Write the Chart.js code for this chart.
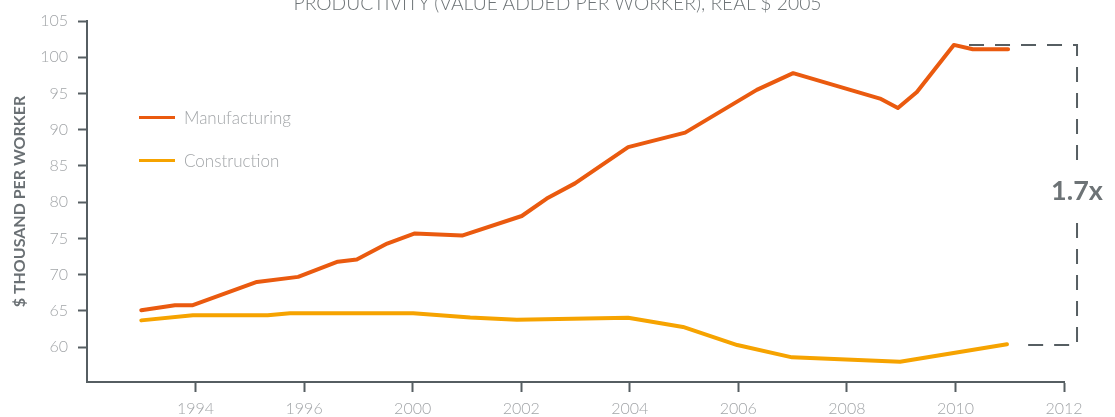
<!DOCTYPE html>
<html>
<head>
<meta charset="utf-8">
<title>Productivity</title>
<script src="https://cdn.jsdelivr.net/npm/chart.js@4.4.1/dist/chart.umd.min.js"></script>
<style>
  body { margin: 0; background: #fff; overflow: hidden; }
  #wrap { position: relative; width: 1115px; height: 417px; }
  #titulo { position: absolute; left: 0; top: -7px; width: 1115px; text-align: center;
            font: 300 19.3px/20px Lato, sans-serif; color: #6e7477; white-space: nowrap; }
  #legend { position: absolute; left: 139px; top: 104px; font: 300 17px Lato, sans-serif; color: #a2a5a8; }
  .item { display: flex; align-items: center; height: 26px; margin-bottom: 17px; }
  .swatch { width: 36px; height: 3px; margin-right: 9px; }
</style>
</head>
<body>
<div id="wrap">
  <canvas id="grafica"></canvas>
  <div id="titulo">PRODUCTIVITY (VALUE ADDED PER WORKER), REAL $ 2005</div>
  <div id="legend"></div>
</div>
<script>
// x = position on the printed axis, in years from the origin (1992), one label every 2 years.
// The printed labels skip 1998, so they are kept as they appear.
const xTickLabels = ['1994', '1996', '2000', '2002', '2004', '2006', '2008', '2010', '2012'];

const mfgX = [1993.0, 1993.62, 1993.95, 1995.13, 1995.89, 1996.62, 1996.97, 1997.53, 1998.04, 1998.91,
              2000.01, 2000.47, 2000.99, 2001.97, 2003.02, 2004.34, 2005.01, 2006.61, 2006.94, 2007.29,
              2007.97, 2008.32, 2008.97];
const mfgY = [65.1, 65.8, 65.8, 69.0, 69.7, 71.8, 72.1, 74.3, 75.7, 75.4,
              78.1, 80.5, 82.6, 87.6, 89.6, 95.5, 97.8, 94.3, 93.0, 95.2,
              101.7, 101.1, 101.1];

const conX = [1993.0, 1993.95, 1995.33, 1995.74, 1998.01, 1999.06, 1999.92, 2001.97, 2002.98, 2003.98,
              2004.99, 2006.98, 2008.95];
const conY = [63.7, 64.4, 64.4, 64.7, 64.7, 64.1, 63.8, 64.05, 62.8, 60.3,
              58.6, 58.0, 60.4];

const seriesNames = ['Manufacturing', 'Construction'];
const seriesColors = ['#ea5a0f', '#f6a300'];

// bracket: manufacturing peak vs construction end
const bracketTop = 101.7;
const bracketBottom = 60.3;
const bracketLabel = '1.7x';

const axisColor = '#565e62';
const tickColor = '#a2a5a8';
const fontFam = 'Lato, "Open Sans", sans-serif';

const bracketPlugin = {
  id: 'bracket',
  beforeDatasetsDraw(chart) {
    const { ctx, scales: { x, y } } = chart;
    const xStart = x.getPixelForValue(2008.25);
    const xSide = x.getPixelForValue(2010.24);
    const xEnd = x.getPixelForValue(2009.28);
    const yTop = y.getPixelForValue(bracketTop);
    const yBot = y.getPixelForValue(bracketBottom);
    const mid = (yTop + yBot) / 2 - 4;

    ctx.save();
    ctx.strokeStyle = axisColor;
    ctx.lineWidth = 2;
    ctx.setLineDash([15, 11]);
    ctx.beginPath();
    ctx.moveTo(xStart, yTop);
    ctx.lineTo(xSide, yTop);
    ctx.lineTo(xSide, yBot);
    ctx.lineTo(xEnd, yBot);
    ctx.stroke();

    ctx.fillStyle = '#fff';
    ctx.fillRect(xSide - 6, mid - 29, 12, 58);
    ctx.fillStyle = '#6d7376';
    ctx.font = 'bold 27px ' + fontFam;
    ctx.textAlign = 'center';
    ctx.textBaseline = 'middle';
    ctx.fillText(bracketLabel, xSide, mid);
    ctx.restore();
  }
};

document.addEventListener('DOMContentLoaded', () => {
  const ctxG = document.getElementById('grafica').getContext('2d');

  const datasets = [
    { label: seriesNames[0], data: mfgX.map((x, i) => ({ x, y: mfgY[i] })), borderColor: seriesColors[0] },
    { label: seriesNames[1], data: conX.map((x, i) => ({ x, y: conY[i] })), borderColor: seriesColors[1] }
  ].map(ds => Object.assign(ds, {
    borderWidth: 4, pointRadius: 0, tension: 0, fill: false,
    borderCapStyle: 'round', borderJoinStyle: 'round'
  }));

  const chart = new Chart(ctxG, {
    type: 'line',
    data: { datasets },
    options: {
      responsive: true,
      maintainAspectRatio: false,
      animation: false,
      layout: { padding: { right: 51, left: 0, bottom: 0, top: 21 } },
      plugins: {
        legend: { display: false },
        tooltip: { enabled: false }
      },
      scales: {
        x: {
          type: 'linear',
          min: 1992,
          max: 2010,
          ticks: {
            stepSize: 2,
            color: tickColor,
            font: { family: fontFam, size: 16, weight: 300 },
            padding: 7,
            maxRotation: 0,
            callback: v => {
              const i = Math.round((v - 1994) / 2);
              return i >= 0 ? xTickLabels[i] : '';
            }
          },
          grid: {
            drawOnChartArea: false,
            tickLength: 10,
            tickWidth: 2,
            tickColor: c => (c.tick && c.tick.value === 1992) ? 'rgba(0,0,0,0)' : axisColor
          },
          border: { color: axisColor, width: 2 },
          afterFit: s => { s.height = 35; }
        },
        y: {
          min: 55.2,
          max: 105,
          ticks: {
            stepSize: 5,
            color: tickColor,
            font: { family: fontFam, size: 16, weight: 300 },
            padding: 10,
            callback: v => v < 60 ? '' : v
          },
          grid: {
            drawOnChartArea: false,
            tickLength: 9,
            tickWidth: 2,
            tickColor: c => (c.tick && c.tick.value < 60) ? 'rgba(0,0,0,0)' : axisColor
          },
          border: { color: axisColor, width: 2 },
          title: {
            display: true,
            text: '$ THOUSAND PER WORKER',
            color: '#6a7074',
            font: { family: fontFam, size: 16, weight: 700 },
            padding: { top: 10, bottom: 0 }
          },
          afterFit: s => { s.width = 87; }
        }
      }
    },
    plugins: [bracketPlugin]
  });

  // leyenda dentro del área de la gráfica
  const legend = document.getElementById('legend');
  chart.data.datasets.forEach(ds => {
    const item = document.createElement('div');
    item.className = 'item';
    const sw = document.createElement('span');
    sw.className = 'swatch';
    sw.style.background = ds.borderColor;
    const txt = document.createElement('span');
    txt.textContent = ds.label;
    item.appendChild(sw);
    item.appendChild(txt);
    legend.appendChild(item);
  });
});
</script>
</body>
</html>
